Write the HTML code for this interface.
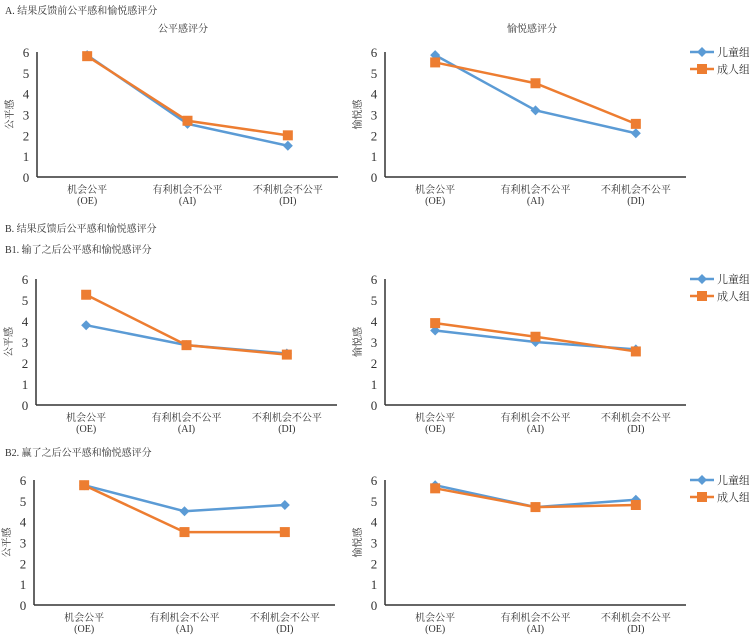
<!DOCTYPE html>
<html><head><meta charset="utf-8"><style>
body{margin:0;background:#fff;width:749px;height:636px;overflow:hidden}
svg text{font-family:"Liberation Serif","Noto Serif CJK SC","Noto Sans CJK SC",serif;fill:#333}
</style></head><body>
<svg id="c" width="749" height="636" xmlns="http://www.w3.org/2000/svg">
<text x="5" y="14" font-size="10">A. 结果反馈前公平感和愉悦感评分</text>
<text x="183" y="32" font-size="10" text-anchor="middle">公平感评分</text>
<text x="532" y="32" font-size="10" text-anchor="middle">愉悦感评分</text>
<text x="5" y="232" font-size="10">B. 结果反馈后公平感和愉悦感评分</text>
<text x="5" y="253" font-size="10">B1. 输了之后公平感和愉悦感评分</text>
<text x="5" y="456" font-size="10">B2. 赢了之后公平感和愉悦感评分</text>
</svg>
<script>
const categories=["机会公平","有利机会不公平","不利机会不公平"];
const categoryCodes=["(OE)","(AI)","(DI)"];
const yTicks=[0,1,2,3,4,5,6];
const seriesNames=["儿童组","成人组"];
const aFairChild=[5.85,2.55,1.5], aFairAdult=[5.8,2.7,2.0];
const aJoyChild=[5.85,3.2,2.1], aJoyAdult=[5.5,4.5,2.55];
const b1FairChild=[3.8,2.85,2.45], b1FairAdult=[5.25,2.85,2.4];
const b1JoyChild=[3.55,3.0,2.65], b1JoyAdult=[3.9,3.25,2.55];
const b2FairChild=[5.75,4.5,4.8], b2FairAdult=[5.75,3.5,3.5];
const b2JoyChild=[5.75,4.7,5.05], b2JoyAdult=[5.6,4.7,4.8];

const NS="http://www.w3.org/2000/svg";
const svg=document.getElementById('c');
function mk(tag,attrs,txt){const e=document.createElementNS(NS,tag);for(const k in attrs)e.setAttribute(k,attrs[k]);if(txt!=null)e.textContent=txt;svg.appendChild(e);return e;}
const BLUE="#5b9bd5",ORANGE="#ed7d31";
function panel(id,x0,yTop,yBot,ytitle,child,adult,legend){
  const w=301;
  const xs=i=>x0+w*(i+0.5)/3;
  const ys=v=>yBot-(yBot-yTop)*v/6;
  let e=mk('line',{x1:x0,y1:yTop,x2:x0,y2:yBot,stroke:'#333','stroke-width':1.5});
  
  e=mk('line',{x1:x0,y1:yBot,x2:x0+w,y2:yBot,stroke:'#333','stroke-width':1.5});
  
  yTicks.forEach(t=>{e=mk('text',{x:x0-11,y:ys(t)+5,'font-size':13,'text-anchor':'middle'},t);
    });
  e=mk('text',{x:0,y:0,'font-size':10,'text-anchor':'middle',transform:`translate(${x0-24},${(yTop+yBot)/2}) rotate(-90)`},ytitle);
  
  categories.forEach((c,i)=>{
    e=mk('text',{x:xs(i),y:yBot+16,'font-size':10,'text-anchor':'middle'},c);
    
    e=mk('text',{x:xs(i),y:yBot+27,'font-size':10,'text-anchor':'middle'},categoryCodes[i]);
    
  });
  [[child,BLUE,'child'],[adult,ORANGE,'adult']].forEach(([d,col,nm])=>{
    e=mk('polyline',{points:d.map((v,i)=>xs(i)+','+ys(v)).join(' '),fill:'none',stroke:col,'stroke-width':2.5});
    
    d.forEach((v,i)=>{
      const cx=xs(i),cy=ys(v);
      if(nm==='child') e=mk('polygon',{points:`${cx},${cy-5} ${cx+5},${cy} ${cx},${cy+5} ${cx-5},${cy}`,fill:col});
      else e=mk('rect',{x:cx-5,y:cy-5,width:10,height:10,fill:col});
      
    });
  });
  if(legend){
    const lx=690;
    [[BLUE,'child',0],[ORANGE,'adult',1]].forEach(([col,nm,k])=>{
      const ly=yTop+k*17;
      e=mk('line',{x1:lx,y1:ly,x2:lx+24,y2:ly,stroke:col,'stroke-width':2.5});
      
      if(k===0) e=mk('polygon',{points:`${lx+12},${ly-5} ${lx+17},${ly} ${lx+12},${ly+5} ${lx+7},${ly}`,fill:col});
      else e=mk('rect',{x:lx+7,y:ly-5,width:10,height:10,fill:col});
      
      e=mk('text',{x:lx+27,y:ly+4,'font-size':11,fill:'#555'},seriesNames[k]);
      
    });
  }
}
panel('a-fair',37,52,177,'公平感',aFairChild,aFairAdult,false);
panel('a-joy',385,52,177,'愉悦感',aJoyChild,aJoyAdult,true);
panel('b1-fair',36,279,405,'公平感',b1FairChild,b1FairAdult,false);
panel('b1-joy',385,279,405,'愉悦感',b1JoyChild,b1JoyAdult,true);
panel('b2-fair',34,480,605,'公平感',b2FairChild,b2FairAdult,false);
panel('b2-joy',385,480,605,'愉悦感',b2JoyChild,b2JoyAdult,true);
</script>
</body></html>
